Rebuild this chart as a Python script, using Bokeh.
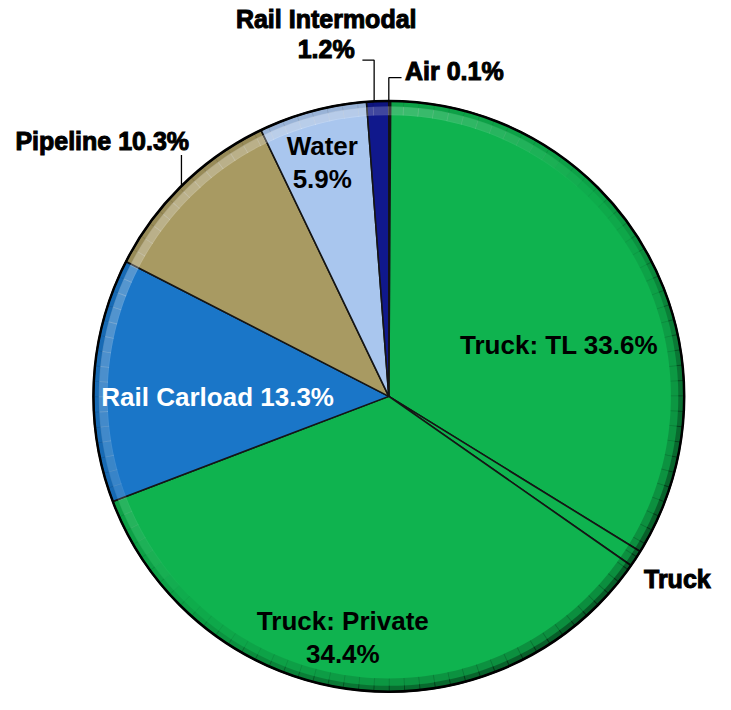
import numpy as np
from bokeh.plotting import figure
from bokeh.models import Range1d, ColumnDataSource
from bokeh.embed import file_html
from bokeh.resources import INLINE
from bokeh.core.properties import value

# ---------------- data ----------------
categories = ["Air", "Truck: TL", "Truck", "Truck: Private", "Rail Carload",
              "Pipeline", "Water", "Rail Intermodal"]
shares = [0.1, 33.6, 0.9, 34.4, 13.3, 10.3, 5.9, 1.2]
label_texts = ["Air 0.1%", "Truck: TL 33.6%", "Truck", "Truck: Private\n34.4%",
               "Rail Carload 13.3%", "Pipeline 10.3%", "Water\n5.9%",
               "Rail Intermodal\n1.2%"]

# ---------------- styles / layout ----------------
colors = ["#16307A", "#0FB34F", "#0FB34F", "#0FB34F", "#1A76C8",
          "#A89A62", "#A9C6EE", "#10188C"]
label_colors = ["black", "black", "black", "black", "white", "black", "black", "black"]
label_outside = [True, False, True, False, False, True, False, True]
# label anchor offsets relative to pie centre (reference pixels)
label_dx = [67, 174, 295, -47, -175, -293, -68, -64]
label_dy = [333, 53, -187, -247, -1, 261, 239, 371]
W, H = 715, 694
CX, CY, R = 397, 305, 302

p = figure(width=W, height=H, x_range=Range1d(0, 731), y_range=Range1d(0, 710),
           output_backend="svg", toolbar_location=None, min_border=0)
p.axis.visible = False
p.grid.visible = False
p.outline_line_color = None
p.background_fill_color = "white"

vals = np.array(shares, dtype=float)
frac = vals / vals.sum()
cum = np.concatenate([[0], np.cumsum(frac)])
start = np.pi / 2 - 2 * np.pi * cum[:-1]
end = np.pi / 2 - 2 * np.pi * cum[1:]

src = ColumnDataSource(dict(x=[CX] * len(vals), y=[CY] * len(vals), start=start,
                            end=end, color=colors, cat=categories))

# main slices
p.wedge(x="x", y="y", radius=R, start_angle="start", end_angle="end",
        direction="clock", fill_color="color", line_color="#151515",
        line_width=1.6, source=src)

# bevel lighting on the rim (decoration): light from upper-left, shadow lower-right
nseg = 120
a0 = np.linspace(0, 2 * np.pi, nseg, endpoint=False)
a1 = a0 + 2 * np.pi / nseg + 0.003
light = np.cos(a0 + np.pi / nseg - 3 * np.pi / 4)
hl_alpha = 0.30 * np.clip(light, 0, None)
sh_alpha = 0.28 * np.clip(-light, 0, None) + 0.06
p.annular_wedge(x=CX, y=CY, inner_radius=R * 0.952, outer_radius=R * 0.982,
                start_angle=a0, end_angle=a1, fill_color="white",
                fill_alpha=hl_alpha, line_color=None)
p.annular_wedge(x=CX, y=CY, inner_radius=R * 0.955, outer_radius=R,
                start_angle=a0, end_angle=a1, fill_color="black",
                fill_alpha=sh_alpha * 0.6, line_color=None)
p.annular_wedge(x=CX, y=CY, inner_radius=R * 0.98, outer_radius=R,
                start_angle=a0, end_angle=a1, fill_color="black",
                fill_alpha=sh_alpha, line_color=None)
# outer rim outline
p.circle(x=[CX], y=[CY], radius=R, fill_color=None, line_color="black", line_width=2.5)

# leader lines
p.line(x=[CX - 27, CX - 15, CX - 15], y=[CY + 344, CY + 344, CY + R], line_color="black", line_width=1.3)
p.line(x=[CX + 13, CX, CX], y=[CY + 326, CY + 326, CY + R], line_color="black", line_width=1.3)
p.line(x=[CX - 212, CX - 212], y=[CY + 247, CY + 216], line_color="black", line_width=1.3)

idx_in = [i for i, o in enumerate(label_outside) if not o]
idx_out = [i for i, o in enumerate(label_outside) if o]

def lsource(idx):
    return ColumnDataSource(dict(x=[CX + label_dx[i] for i in idx],
                                 y=[CY + label_dy[i] for i in idx],
                                 text=[label_texts[i] for i in idx],
                                 color=[label_colors[i] for i in idx]))

p.text(x="x", y="y", text="text", source=lsource(idx_in), text_color="color",
       text_font=value("Liberation Sans"), text_font_style="bold",
       text_font_size="26px", text_align="center", text_baseline="middle",
       text_line_height=1.1)
p.text(x="x", y="y", text="text", source=lsource(idx_out), text_color="color",
       text_font=value("Liberation Sans"), text_font_style="bold",
       text_font_size="25px", text_align="center", text_baseline="middle",
       text_line_height=1.08, text_outline_color="black")

open("out.html", "w").write(file_html(p, INLINE))
